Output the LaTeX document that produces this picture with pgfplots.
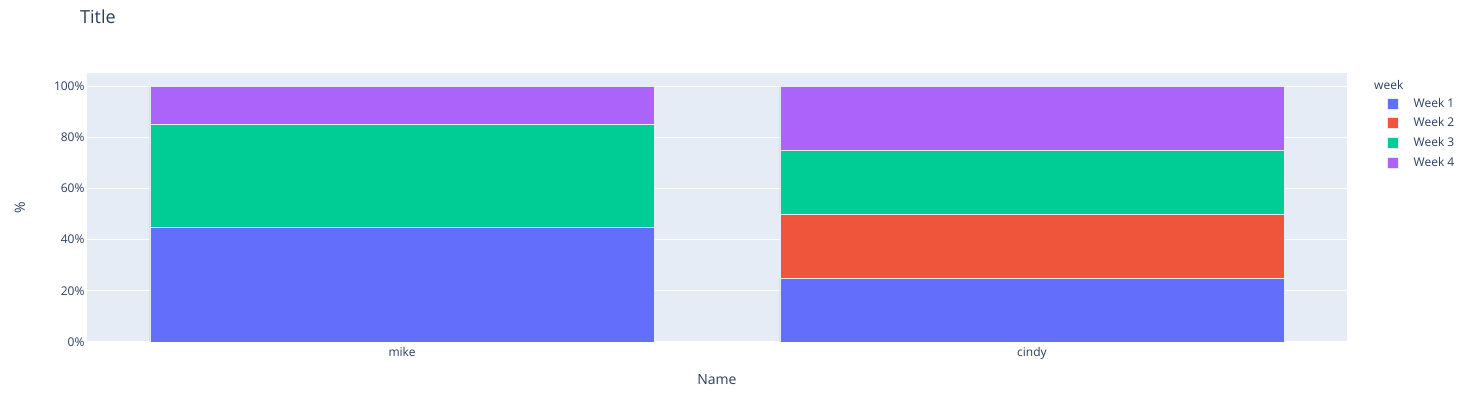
\documentclass[border=0pt]{standalone}
\usepackage{pgfplots}
\pgfplotsset{compat=1.18}
\usepackage{fontspec}
\setmainfont{Open Sans}
\definecolor{bgc}{HTML}{E5ECF6}
\definecolor{txt}{HTML}{2A3F5F}
\definecolor{wone}{HTML}{636EFA}
\definecolor{wtwo}{HTML}{EF553B}
\definecolor{wthree}{HTML}{00CC96}
\definecolor{wfour}{HTML}{AB63FA}
\begin{document}
\begin{tikzpicture}
\begin{axis}[
  at={(0,0)}, anchor=south west,
  scale only axis, width=1260pt, height=269pt,
  ybar stacked, bar width=504pt,
  xmin=-0.5, xmax=1.5, ymin=0, ymax=105.1,
  xtick={0,1}, xticklabels={mike,cindy},
  ytick={0,20,40,60,80,100},
  yticklabels={0\%,20\%,40\%,60\%,80\%,100\%},
  /pgf/number format/assume math mode=true,
  axis background/.style={fill=bgc},
  axis line style={draw=none},
  major tick length=0pt,
  ymajorgrids, grid style={white, line width=1pt},
  ticklabel style={font=\fontsize{12}{14}\selectfont, text=txt},
  yticklabel style={xshift=1pt},
  xticklabel style={yshift=-2pt},
  xlabel={Name}, ylabel={\%},
  xlabel style={at={(axis description cs:0.5,0)}, anchor=center, yshift=-38pt, font=\fontsize{14}{16}\selectfont, text=txt},
  ylabel style={at={(axis description cs:-0.0532,0.5)}, anchor=center, font=\fontsize{14}{16}\selectfont, text=txt},
  legend style={at={(rel axis cs:1,1)}, anchor=north west, xshift=40pt, yshift=-23pt, draw=none, fill=none,
    font=\fontsize{12}{14}\selectfont, text=txt, row sep=5pt, inner sep=0pt,
    /tikz/every even column/.append style={column sep=0pt}},
  legend cell align=left,
  legend image code/.code={\fill[#1] (0pt,-5.5pt) rectangle (11pt,5.5pt);},
]
\addplot[fill=wone, draw=bgc, line width=0.5pt] coordinates {(0,45) (1,25)};
\addlegendentry{\hspace{13pt}Week 1}
\addplot[fill=wtwo, draw=bgc, line width=0.5pt] coordinates {(0,0) (1,25)};
\addlegendentry{\hspace{13pt}Week 2}
\addplot[fill=wthree, draw=bgc, line width=0.5pt] coordinates {(0,40) (1,25)};
\addlegendentry{\hspace{13pt}Week 3}
\addplot[fill=wfour, draw=bgc, line width=0.5pt] coordinates {(0,15) (1,25)};
\addlegendentry{\hspace{13pt}Week 4}
\end{axis}
\node[anchor=west, inner sep=0pt, text=txt, font=\fontsize{18}{21}\selectfont] at (-7pt,325pt) {Title};
\node[anchor=west, inner sep=0pt, text=txt, font=\fontsize{12}{14}\selectfont] at (1374pt-87pt,257pt) {week};
\path[use as bounding box] (-87pt,-54pt) rectangle (1380pt,342pt);
\end{tikzpicture}
\end{document}
